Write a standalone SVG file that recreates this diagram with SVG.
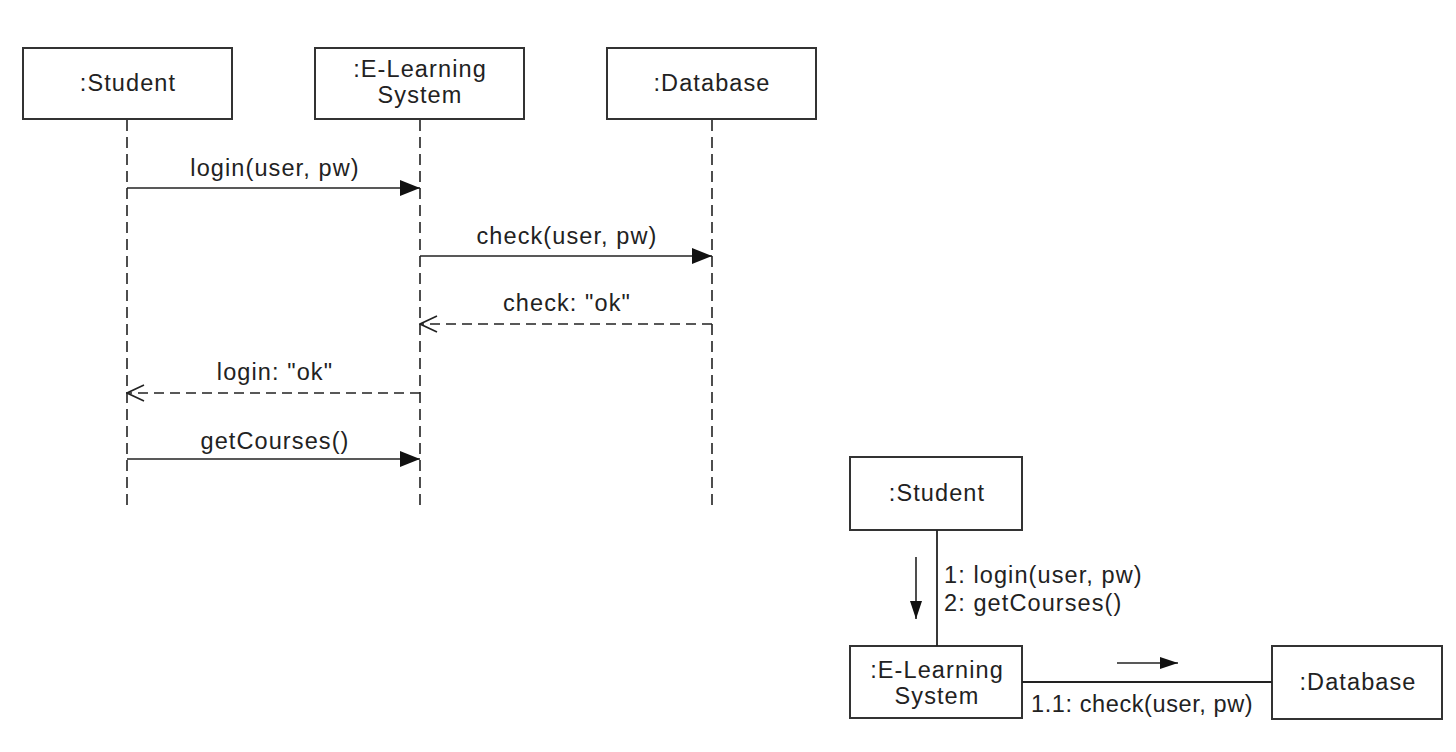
<svg xmlns="http://www.w3.org/2000/svg" width="1456" height="752" viewBox="0 0 1456 752">
<style>
.box{fill:#fff;stroke:#333;stroke-width:2}
.lbl{font-family:"Liberation Sans",Arial,sans-serif;font-size:23.5px;letter-spacing:1.1px;fill:#222}
.mid{text-anchor:middle}
.life{stroke:#222;stroke-width:1.6;stroke-dasharray:11 6;fill:none}
.msg{stroke:#222;stroke-width:1.6;fill:none}
.ret{stroke:#222;stroke-width:1.6;stroke-dasharray:10 6;fill:none}
.solid{stroke:#222;stroke-width:1.8;fill:none}
</style>
<defs>
<marker id="filled" viewBox="0 0 20 16" refX="20" refY="8" markerWidth="20" markerHeight="16" markerUnits="userSpaceOnUse" orient="auto">
<path d="M0,0 L20,8 L0,16 Z" fill="#111"/>
</marker>
<marker id="open" viewBox="0 0 20 18" refX="19" refY="9" markerWidth="20" markerHeight="18" markerUnits="userSpaceOnUse" orient="auto">
<path d="M2,1 L19,9 L2,17" fill="none" stroke="#222" stroke-width="1.6"/>
</marker>
<marker id="small" viewBox="0 0 18 12" refX="18" refY="6" markerWidth="18" markerHeight="12" markerUnits="userSpaceOnUse" orient="auto">
<path d="M0,0 L18,6 L0,12 Z" fill="#111"/>
</marker>
</defs>

<!-- Sequence diagram nodes -->
<g id="seq-student">
<rect class="box" x="23" y="48" width="209" height="71"/>
<text class="lbl mid" x="128" y="91">:Student</text>
</g>
<g id="seq-elearning">
<rect class="box" x="315" y="48" width="209" height="71"/>
<text class="lbl mid" x="420" y="77">:E-Learning</text>
<text class="lbl mid" x="420" y="103">System</text>
</g>
<g id="seq-database">
<rect class="box" x="607" y="48" width="209" height="71"/>
<text class="lbl mid" x="712" y="91">:Database</text>
</g>

<!-- Lifelines and messages -->
<g id="seq-connectors">
<line class="life" x1="127" y1="120" x2="127" y2="506"/>
<line class="life" x1="420" y1="120" x2="420" y2="506"/>
<line class="life" x1="712" y1="120" x2="712" y2="506"/>

<line class="msg" x1="127" y1="188" x2="420" y2="188" marker-end="url(#filled)"/>
<text class="lbl mid" x="275" y="176">login(user, pw)</text>

<line class="msg" x1="420" y1="256" x2="712" y2="256" marker-end="url(#filled)"/>
<text class="lbl mid" x="567" y="244">check(user, pw)</text>

<line class="ret" x1="712" y1="324" x2="420" y2="324" marker-end="url(#open)"/>
<text class="lbl mid" x="567" y="311">check: "ok"</text>

<line class="ret" x1="420" y1="393" x2="127" y2="393" marker-end="url(#open)"/>
<text class="lbl mid" x="275" y="380">login: "ok"</text>

<line class="msg" x1="127" y1="459" x2="420" y2="459" marker-end="url(#filled)"/>
<text class="lbl mid" x="275" y="449">getCourses()</text>
</g>

<!-- Communication diagram nodes -->
<g id="com-student">
<rect class="box" x="850" y="457" width="172" height="73"/>
<text class="lbl mid" x="937" y="501">:Student</text>
</g>
<g id="com-elearning">
<rect class="box" x="850" y="646" width="172" height="72"/>
<text class="lbl mid" x="937" y="678">:E-Learning</text>
<text class="lbl mid" x="937" y="704">System</text>
</g>
<g id="com-database">
<rect class="box" x="1272" y="646" width="170" height="73"/>
<text class="lbl mid" x="1358" y="690">:Database</text>
</g>

<g id="com-connectors">
<line class="solid" x1="937" y1="530" x2="937" y2="646"/>
<line class="solid" x1="1022" y1="682" x2="1272" y2="682"/>
<line class="msg" x1="916" y1="557" x2="916" y2="619" marker-end="url(#small)"/>
<line class="msg" x1="1117" y1="663" x2="1178" y2="663" marker-end="url(#small)"/>
<text class="lbl" x="944" y="583">1: login(user, pw)</text>
<text class="lbl" x="944" y="611">2: getCourses()</text>
<text class="lbl" x="1031" y="712" style="letter-spacing:0.6px">1.1: check(user, pw)</text>
</g>
</svg>
